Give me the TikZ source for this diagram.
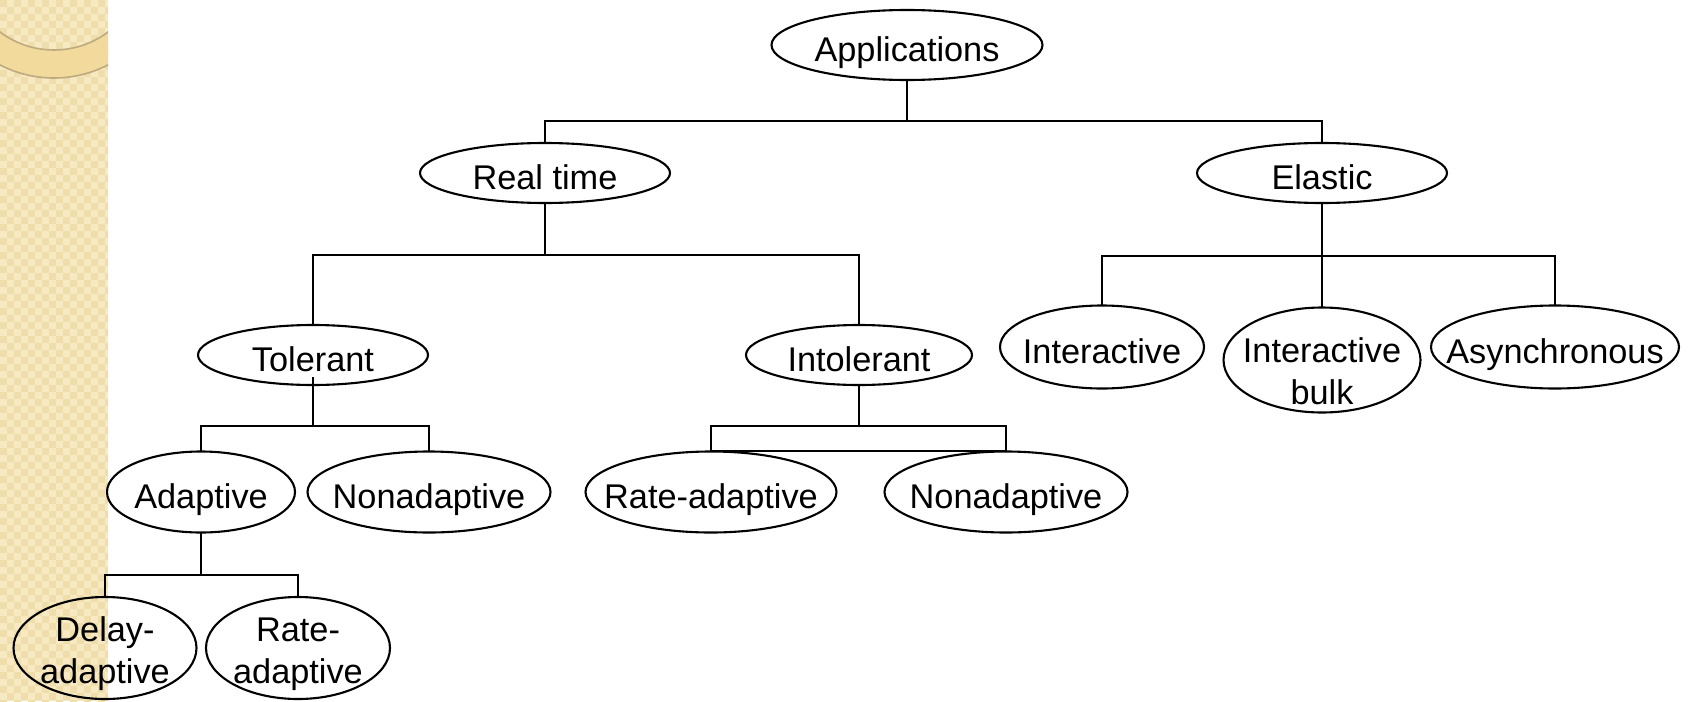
\documentclass[tikz,border=0pt]{standalone}
\usepackage{fontspec}
\setmainfont{Liberation Sans}
\usetikzlibrary{calc}
\definecolor{stripA}{HTML}{F7E9C2}
\definecolor{stripB}{HTML}{EFDDAB}
\definecolor{band}{HTML}{F2D99C}
\definecolor{bandedge}{HTML}{BDAA7E}
\tikzset{
  lab/.style={rectangle, inner sep=0pt, align=center, font=\fontsize{34.3}{42}\selectfont},
  ln/.style={draw=black, line width=2.1pt},
}
% single-line bubble: \bubble{name}{x}{y}{w}{h}{text}
\newcommand\bubble[6]{%
  \node[lab, text height=33pt, text depth=0pt, minimum width=#4, minimum height=#5] (#1) at (#2,#3) {#6};
  \draw[ln] (#2,#3) ellipse [x radius=#4/2, y radius=#5/2];}
% two-line bubble: \bubbletwo[text shift]{name}{x}{y}{w}{h}{text}
\newcommand\bubbletwo[7][5]{%
  \node[lab, minimum width=#5, minimum height=#6+2*#1] (#2) at (#3,#4+#1) {#7};
  \draw[ln] (#3,#4) ellipse [x radius=#5/2, y radius=#6/2];}
\begin{document}
\begin{tikzpicture}[x=1pt,y=-1pt]
\useasboundingbox (0,0) rectangle (1688,701);
% decorative strip
\begin{scope}
  \clip (0,0) rectangle (108,701);
  \fill[stripA] (0,0) rectangle (108,701);
  \foreach \j in {0,...,100} {
    \pgfmathsetmacro\off{mod(\j,2)*7}
    \foreach \i in {0,14,...,112} {
      \fill[stripB] (\i+\off,\j*7) rectangle ++(7,7);
    }
  }
  \fill[band, even odd rule] (54,-40) circle [radius=118] (54,-40) circle [radius=90];
  \draw[bandedge, line width=1.6pt] (54,-40) circle [radius=118];
  \draw[bandedge, line width=1.6pt] (54,-40) circle [radius=90];
\end{scope}
% nodes
\bubble{app}{907}{45}{271}{70}{Applications}
\bubble{rt}{545}{173}{250}{60}{Real time}
\bubble{el}{1322}{173}{250}{60}{Elastic}
\bubble{tol}{313}{355}{230}{60}{Tolerant}
\bubble{intol}{859}{355}{226}{60}{Intolerant}
\bubble{int}{1102}{347}{204}{83}{Interactive}
\bubbletwo[11]{bulk}{1322}{360}{197}{105}{Interactive\\bulk}
\bubble{async}{1555}{347}{248}{83}{Asynchronous}
\bubble{ad}{201}{492}{188}{81}{Adaptive}
\bubble{na1}{429}{492}{243}{81}{Nonadaptive}
\bubble{ra1}{711}{492}{251}{81}{Rate-adaptive}
\bubble{na2}{1006}{492}{243}{81}{Nonadaptive}
\bubbletwo[6]{delay}{105}{648}{183}{102}{Delay-\\adaptive}
\bubbletwo[6]{ra2}{298}{648}{184}{102}{Rate-\\adaptive}
% connectors
\coordinate (b1) at (907,121);
\draw[ln] (app.south) -- (b1);
\draw[ln] (rt.north) |- (b1) -| (el.north);
\coordinate (b2) at (545,255);
\draw[ln] (rt.south) -- (b2);
\draw[ln] (tol.north) |- (b2) -| (intol.north);
\coordinate (b3) at (1322,256);
\draw[ln] (el.south) -- (bulk.north);
\draw[ln] (int.north) |- (b3) -| (async.north);
\coordinate (tolstub) at (313,377);
\coordinate (b4) at (313,426);
\draw[ln] (tolstub) -- (b4);
\draw[ln] (ad.north) |- (b4) -| (na1.north);
\coordinate (b5) at (859,426);
\draw[ln] (intol.south) -- (b5);
\draw[ln] (ra1.north) rectangle (b5 -| na2.north);
\coordinate (b6) at (201,575);
\draw[ln] (ad.south) -- (b6);
\draw[ln] (delay.north) |- (b6) -| (ra2.north);
\end{tikzpicture}
\end{document}
